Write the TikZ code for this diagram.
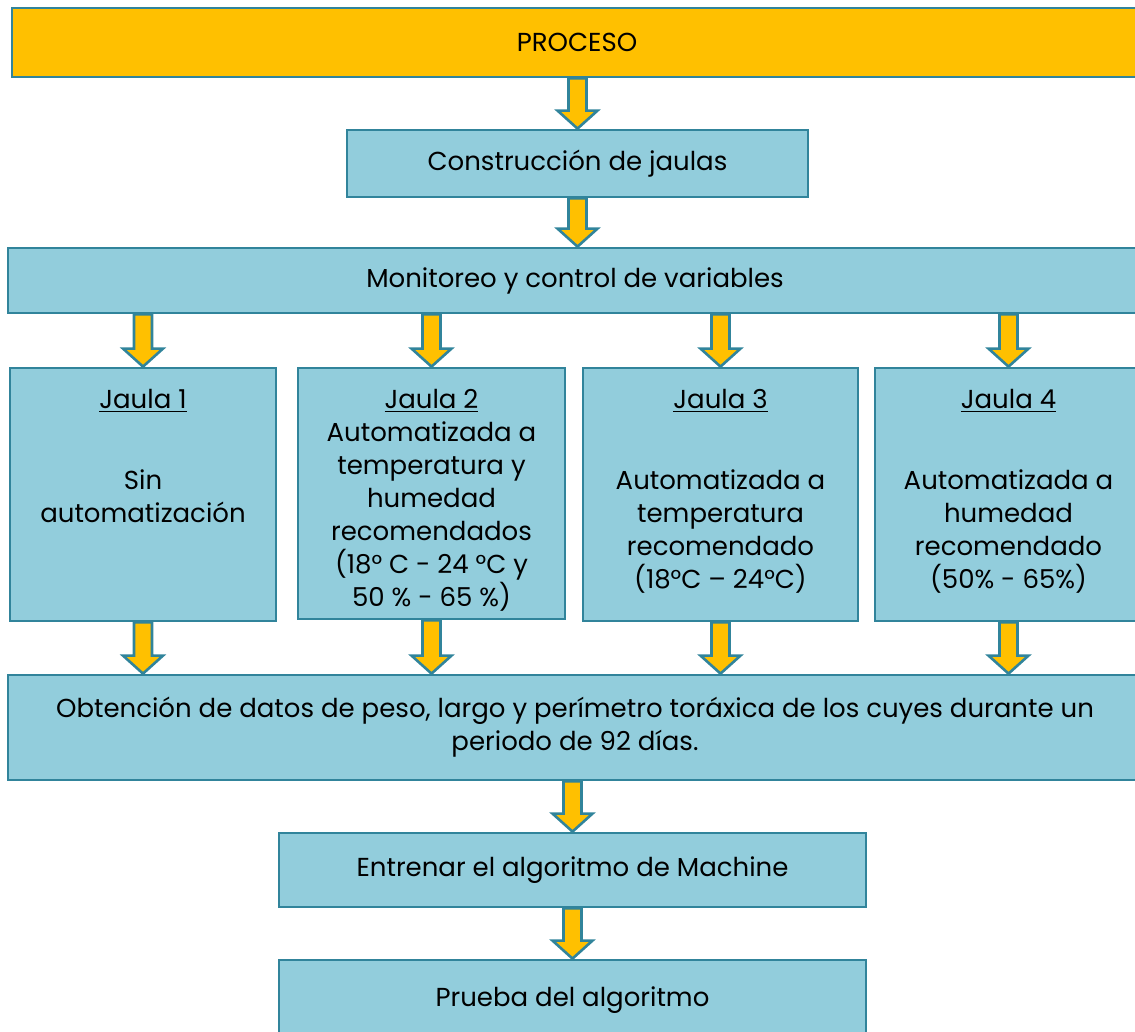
\documentclass[tikz,border=0pt]{standalone}
\usepackage{fontspec}
\setmainfont{Poppins}
\usetikzlibrary{calc}

\definecolor{celeste}{HTML}{92CDDC}
\definecolor{borde}{HTML}{31849B}
\definecolor{oro}{HTML}{FFC000}

\tikzset{
  caja/.style={draw=borde, fill=celeste, line width=1.4pt, inner sep=0pt,
    align=center, font=\fontsize{13}{16.5}\selectfont},
  titulo/.style={caja, fill=oro},
  flecha/.style={draw=borde, fill=oro, line width=1.3pt, line join=miter}
}

% flecha de bloque: de #1 a #2, con el eje en la x de #2
\newcommand{\flecha}[2]{%
  \draw[flecha] let \p1=(#1), \p2=(#2) in
    (\x2-4.5pt,\y1) -- (\x2+4.5pt,\y1) -- (\x2+4.5pt,\y2+9pt)
    -- (\x2+10pt,\y2+9pt) -- (\x2,\y2) -- (\x2-10pt,\y2+9pt)
    -- (\x2-4.5pt,\y2+9pt) -- cycle;}

% texto de jaula alineado arriba
\newcommand{\jaula}[2]{\begin{minipage}[c][#1][t]{130pt}\centering
  \vspace*{10.5pt}#2\end{minipage}}

\begin{document}
\begin{tikzpicture}[x=0.5pt, y=-0.5pt]
  \useasboundingbox (0,0) rectangle (1135,1032);

  % Cajas
  \node[titulo, minimum width=565pt, minimum height=34.5pt] (proc) at (577,42.5) {PROCESO};
  \node[caja, minimum width=230.5pt, minimum height=33.5pt] (cons) at (577.5,163.5) {Construcción de jaulas};
  \node[caja, minimum width=567pt, minimum height=32.5pt] (mon) at (575,280.5) {Monitoreo y control de variables};

  \node[caja, minimum width=133pt, minimum height=126.5pt] (j1) at (143,494.5)
    {\jaula{126.5pt}{\underline{Jaula 1}\\[24pt]Sin\\automatización}};
  \node[caja, minimum width=133.5pt, minimum height=125.5pt] (j2) at (431.5,493.5)
    {\jaula{125.5pt}{\underline{Jaula 2}\\Automatizada a\\temperatura y\\humedad\\recomendados\\(18° C - 24 °C y\\50 \% - 65 \%)}};
  \node[caja, minimum width=137.5pt, minimum height=126.5pt] (j3) at (720.5,494.5)
    {\jaula{126.5pt}{\underline{Jaula 3}\\[24pt]Automatizada a\\temperatura\\recomendado\\(18°C – 24°C)}};
  \node[caja, minimum width=133.5pt, minimum height=126.5pt] (j4) at (1008.5,494.5)
    {\jaula{126.5pt}{\underline{Jaula 4}\\[24pt]Automatizada a\\humedad\\recomendado\\(50\% - 65\%)}};

  \node[caja, minimum width=567pt, minimum height=52.5pt] (obt) at (575,727.5)
    {Obtención de datos de peso, largo y perímetro toráxica de los cuyes durante un\\periodo de 92 días.};
  \node[caja, minimum width=293.5pt, minimum height=37pt] (ent) at (572.5,870) {Entrenar el algoritmo de Machine};
  \node[caja, minimum width=293.5pt, minimum height=40pt] (pru) at (572.5,1000) {Prueba del algoritmo};

  % Flechas
  \flecha{proc.south -| cons.north}{cons.north}
  \flecha{cons.south}{cons.south |- mon.north}
  \foreach \j in {j1,j2,j3,j4}{
    \flecha{mon.south -| \j.north}{\j.north}
    \flecha{\j.south}{\j.south |- obt.north}
  }
  \flecha{obt.south -| ent.north}{ent.north}
  \flecha{ent.south}{ent.south |- pru.north}
\end{tikzpicture}
\end{document}
